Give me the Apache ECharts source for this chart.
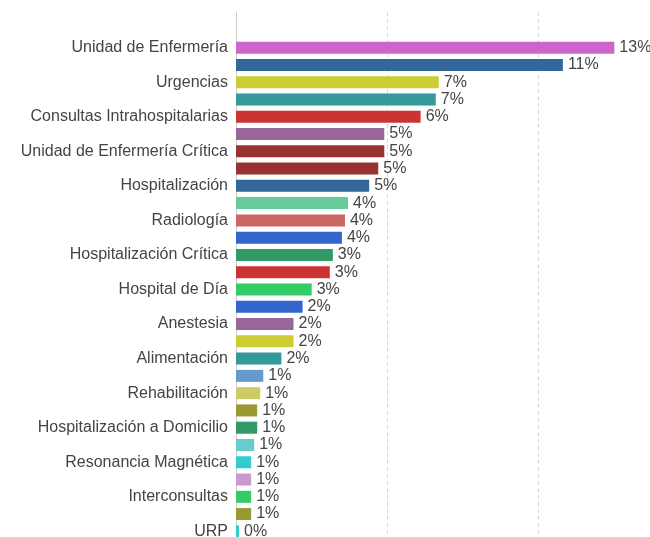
<!DOCTYPE html>
<html>
<head>
<meta charset="utf-8">
<script src="https://cdn.jsdelivr.net/npm/echarts@6/dist/echarts.min.js"></script>
<style>
  html, body { margin: 0; padding: 0; background: #fff; }
  #chart { width: 650px; height: 537px; }
</style>
</head>
<body>
<div id="chart"></div>
<script>
  // categories top to bottom; names between the visible labels are not shown in the picture
  const categories = [
    'Unidad de Enfermería', '',
    'Urgencias', '',
    'Consultas Intrahospitalarias', '',
    'Unidad de Enfermería Crítica', '',
    'Hospitalización', '',
    'Radiología', '',
    'Hospitalización Crítica', '',
    'Hospital de Día', '',
    'Anestesia', '',
    'Alimentación', '',
    'Rehabilitación', '',
    'Hospitalización a Domicilio', '',
    'Resonancia Magnética', '',
    'Interconsultas', '',
    'URP'
  ]
  // bar lengths (counts)
  const counts = [
    125, 108, 67, 66, 61, 49, 49, 47, 44, 37, 36, 35, 32, 31, 25,
    22, 19, 19, 15, 9, 8, 7, 7, 6, 5, 5, 5, 5, 1
  ]
  const barColors = [
    '#CC66CC', '#336699', '#CCCC33', '#339999', '#CC3333', '#996699', '#993333', '#993333',
    '#336699', '#66CC99', '#CC6666', '#3366CC', '#339966', '#CC3333', '#33CC66', '#3366CC',
    '#996699', '#CCCC33', '#339999', '#6699CC', '#CCCC66', '#999933', '#339966', '#66CCCC',
    '#33CCCC', '#CC99CC', '#33CC66', '#999933', '#33CCCC'
  ]
  const axisMax = 150
  const axisStep = 50

  const total = counts.reduce((a, b) => a + b, 0)
  const font = 'Liberation Sans, Arial, sans-serif'

  const chart = echarts.init(document.getElementById('chart'))
  chart.setOption({
    animation: false,
    // grid 0 only draws the frame (axis line + dashed grid), grid 1 holds the bars
    // both run past the right/bottom edge like the cropped original
    grid: [
      {left: 236, width: 454, top: 12, height: 560, outerBoundsMode: 'none'},
      {left: 236, width: 454, top: 39, height: 501, outerBoundsMode: 'none'}
    ],
    xAxis: [
      {
        type: 'value', gridIndex: 0, min: 0, max: axisMax, interval: axisStep,
        axisLine: {show: false}, axisTick: {show: false}, axisLabel: {show: false},
        splitLine: {show: true, lineStyle: {color: '#d8d8d8', type: [4, 3], width: 1}}
      },
      {
        type: 'value', gridIndex: 1, min: 0, max: axisMax, interval: axisStep,
        axisLine: {show: false}, axisTick: {show: false}, axisLabel: {show: false},
        splitLine: {show: false}
      }
    ],
    yAxis: [
      {
        type: 'value', gridIndex: 0, min: 0, max: 1,
        axisLine: {show: true, lineStyle: {color: '#cccccc', width: 1}},
        axisTick: {show: false}, axisLabel: {show: false}, splitLine: {show: false}
      },
      {
        type: 'category', gridIndex: 1, inverse: true, data: categories,
        axisLine: {show: false}, axisTick: {show: false},
        axisLabel: {interval: 1, margin: 8, color: '#444', fontSize: 16, fontFamily: font}
      }
    ],
    series: [{
      type: 'bar',
      xAxisIndex: 1,
      yAxisIndex: 1,
      data: counts.map((v, i) => ({value: v, itemStyle: {color: barColors[i]}})),
      barWidth: 12,
      label: {
        show: true,
        position: 'right',
        distance: 5,
        color: '#444',
        fontSize: 16,
        fontFamily: font,
        formatter: p => Math.round(p.value / total * 100) + '%'
      }
    }]
  })
</script>
</body>
</html>
